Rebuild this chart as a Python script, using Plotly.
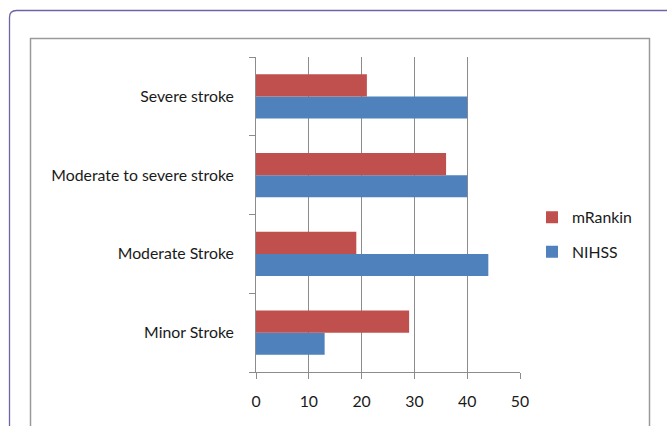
import plotly.graph_objects as go

# Stroke severity categories (bottom to top)
categories = ["Minor Stroke", "Moderate Stroke", "Moderate to severe stroke", "Severe stroke"]
nihss = [13, 44, 40, 40]
mrankin = [29, 19, 36, 21]
x_ticks = [0, 10, 20, 30, 40, 50]

W, H = 667, 426
L, R, T, B = 256, 520, 57, 372  # plot area in pixels


def px(x):
    return (x - L) / (R - L)


def py(y):
    return (B - y) / (B - T)


font_family = "Lato, 'Open Sans', sans-serif"
grid_col = "#8c8c8c"

fig = go.Figure()
fig.add_trace(go.Bar(
    y=categories, x=nihss, name="NIHSS", orientation="h",
    marker=dict(color="#4f81bd", line=dict(width=0)),
    legendgroup="g2", legendrank=2,
))
fig.add_trace(go.Bar(
    y=categories, x=mrankin, name="mRankin", orientation="h",
    marker=dict(color="#c0504d", line=dict(width=0)),
    legendgroup="g1", legendrank=1,
))

# Outer rounded frame (runs off the right and bottom edges)
r = 7
ox, oy = 9.5, 10.5
outer_path = (
    f"M {px(ox)},{py(H + 20)} L {px(ox)},{py(oy + r)} "
    f"Q {px(ox)},{py(oy)} {px(ox + r)},{py(oy)} L {px(W + 20)},{py(oy)}"
)
shapes = [
    dict(type="path", xref="paper", yref="paper", path=outer_path,
         line=dict(color="#6d63a6", width=1.3), layer="below"),
    dict(type="rect", xref="paper", yref="paper",
         x0=px(30.5), x1=px(649.5), y0=py(38.5), y1=py(H + 20),
         line=dict(color="#9a9a9a", width=1.5), layer="below"),
]

fig.update_layout(
    width=W, height=H,
    margin=dict(l=L, r=W - R, t=T, b=H - B, pad=0),
    paper_bgcolor="white", plot_bgcolor="white",
    barmode="group", bargap=0.44, bargroupgap=0,
    font=dict(family=font_family, size=15.8, color="#1a1a1a"),
    showlegend=True,
    legend=dict(
        x=px(532), y=py(235), xanchor="left", yanchor="middle",
        traceorder="grouped", tracegroupgap=11,
        font=dict(size=15.8, color="#1a1a1a"), bgcolor="rgba(0,0,0,0)",
        itemwidth=30,
    ),
    shapes=shapes,
    xaxis=dict(
        range=[0, 50], tickvals=x_ticks, ticktext=[str(v) for v in x_ticks],
        showgrid=True, gridcolor=grid_col, gridwidth=1,
        showline=True, linecolor=grid_col, linewidth=1,
        ticks="outside", ticklen=6, tickcolor=grid_col,
        ticklabelstandoff=9, zeroline=False, fixedrange=True,
    ),
    yaxis=dict(
        categoryorder="array", categoryarray=categories,
        showgrid=False, showline=True, linecolor=grid_col, linewidth=1,
        ticks="outside", ticklen=6, tickcolor=grid_col, tickson="boundaries",
        ticklabelstandoff=18, fixedrange=True,
    ),
)

fig.write_html("out.html")
